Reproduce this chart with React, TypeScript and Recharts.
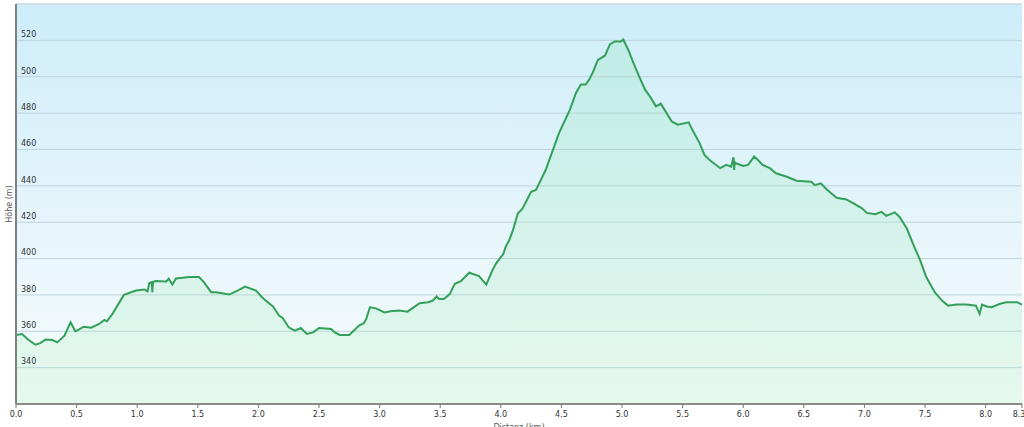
import React from "react"
import { ComposedChart, Area, XAxis, YAxis, CartesianGrid, ReferenceLine } from "recharts"

// profile samples
const distanceKm = [
  0.0, 0.05, 0.1, 0.16, 0.2, 0.245, 0.3, 0.34, 0.4, 0.45, 0.49, 0.56, 0.62, 0.685, 0.73, 0.75, 0.8, 0.89, 0.99,
  1.06, 1.085, 1.1, 1.12, 1.125, 1.13, 1.15, 1.24, 1.26, 1.29, 1.32, 1.43, 1.51, 1.55, 1.61, 1.65, 1.76, 1.84, 1.89,
  1.98, 2.03, 2.06, 2.12, 2.17, 2.2, 2.25, 2.3, 2.35, 2.4, 2.45, 2.5, 2.6, 2.63, 2.67, 2.75, 2.83, 2.87, 2.89, 2.92,
  2.97, 3.04, 3.09, 3.16, 3.23, 3.33, 3.4, 3.44, 3.47, 3.49, 3.53, 3.58, 3.62, 3.67, 3.74, 3.82, 3.88, 3.93, 3.96,
  4.02, 4.04, 4.07, 4.1, 4.14, 4.18, 4.25, 4.29, 4.37, 4.43, 4.48, 4.57, 4.62, 4.66, 4.7, 4.73, 4.76, 4.8, 4.86,
  4.9, 4.94, 4.99, 5.01, 5.05, 5.1, 5.14, 5.19, 5.23, 5.28, 5.32, 5.35, 5.41, 5.46, 5.55, 5.58, 5.64, 5.68, 5.72,
  5.81, 5.86, 5.9, 5.92, 5.925, 5.93, 5.94, 6.0, 6.04, 6.09, 6.12, 6.16, 6.22, 6.27, 6.36, 6.44, 6.56, 6.59, 6.64,
  6.69, 6.77, 6.85, 6.91, 6.98, 7.02, 7.09, 7.14, 7.18, 7.25, 7.29, 7.35, 7.4, 7.46, 7.51, 7.58, 7.64, 7.69, 7.76,
  7.84, 7.92, 7.95, 7.97, 8.01, 8.05, 8.12, 8.17, 8.26, 8.3,
]

const elevationM = [
  358, 358.5, 355.5, 352.6, 353.5, 355.5, 355.2, 353.9, 357.6, 365, 360, 362.5, 362, 364, 366.2, 365.5, 370, 380, 382.4,
  383, 381.9, 386.5, 387, 381.5, 387, 387.6, 387.4, 388.9, 385.7, 389, 389.8, 389.8, 387, 381.5, 381.5, 380.2, 382.8, 384.6,
  382.4, 378.7, 376.9, 373.6, 368.6, 367.3, 362.2, 360.3, 361.8, 358.5, 359.4, 361.8, 361.3, 359.4, 358, 358, 363.1, 364.4, 366.8, 373.2,
  372.6, 370.4, 371, 371.4, 370.8, 375.4, 376, 376.9, 379.1, 377.8, 377.8, 380.6, 386.1, 387.6, 392.2, 390.3, 385.7, 393.5, 397.2,
  402.5, 406.4, 410.2, 415.6, 424.8, 427.6, 436.7, 437.7, 448.7, 459.8, 469, 481.9, 491.1, 495.7, 495.7, 498.5, 502.5, 509.1, 511.7,
  517.8, 519.4, 519.4, 520.5, 515, 506.7, 500.3, 492.9, 489.2, 483.7, 485.2, 481.9, 475.4, 473.6, 474.9, 470.8, 463.5, 457, 454.3,
  449.7, 451.5, 450.5, 455.7, 448.7, 453, 452.4, 450.9, 451.5, 456.1, 454.3, 451.5, 449.7, 446.9, 445, 442.8, 442.3, 440.4, 441.4,
  438, 433.4, 432.5, 430.3, 427.6, 425.1, 424.4, 425.7, 423.5, 425.4, 422.9, 416.5, 408.2, 399, 389.8, 381.5, 376.9, 374.1, 374.7,
  374.7, 374.1, 369.6, 374.7, 373.6, 373.2, 375.1, 376, 376, 374.7,
]

const xTicks = [0, 0.5, 1, 1.5, 2, 2.5, 3, 3.5, 4, 4.5, 5, 5.5, 6, 6.5, 7, 7.5, 8, 8.3]
const yTicks = [340, 360, 380, 400, 420, 440, 460, 480, 500, 520]

const data = distanceKm.map((km, i) => ({ km, elev: elevationM[i] }))

const FONT = "'DejaVu Sans', Verdana, sans-serif"

export default function App() {
  return (
    <div style={{ position: "absolute", left: 0, top: 0, width: 1024, height: 427, background: "#fff", overflow: "hidden" }}>
      <ComposedChart width={1024} height={427} data={data} margin={{ top: 4, right: 2, bottom: 0, left: 16 }}>
        <defs>
          <linearGradient id="bgFill" x1="0" y1="0" x2="0" y2="1">
            <stop offset="0%" stopColor="#cdedfa" />
            <stop offset="55%" stopColor="#e6f5fb" />
            <stop offset="100%" stopColor="#f7fcfb" />
          </linearGradient>
          <linearGradient id="areaFill" x1="0" y1="0" x2="0" y2="1">
            <stop offset="0%" stopColor="#8fe3b0" stopOpacity={0.26} />
            <stop offset="100%" stopColor="#aeefc4" stopOpacity={0.24} />
          </linearGradient>
        </defs>
        <CartesianGrid vertical={false} stroke="#bfd3db" fill="url(#bgFill)" fillOpacity={1} />
        <ReferenceLine y={540} stroke="#d3dde2" strokeWidth={1.5} />
        <XAxis
          dataKey="km"
          type="number"
          domain={[0, 8.3]}
          ticks={xTicks}
          allowDataOverflow
          height={23}
          tickFormatter={(v: number) => v.toFixed(1)}
          tick={{ fontSize: 8, fill: "#333", fontFamily: FONT }}
          axisLine={{ stroke: "#8a8a8a", strokeWidth: 2 }}
          tickLine={{ stroke: "#777" }}
          tickSize={4}
          tickMargin={3}
          label={{ value: "Distanz (km)", position: "insideBottom", offset: -3, fontSize: 8, fill: "#555", fontFamily: FONT }}
        />
        <YAxis
          type="number"
          domain={[320, 540]}
          ticks={yTicks}
          width={1}
          mirror
          allowDataOverflow
          tickLine={false}
          tickSize={0}
          tickMargin={5}
          axisLine={{ stroke: "#808080", strokeWidth: 2 }}
          tick={{ fontSize: 8, fill: "#333", fontFamily: FONT, dy: -6 }}
        />
        <Area
          type="linear"
          dataKey="elev"
          stroke="#33a05a"
          strokeWidth={2}
          fill="url(#areaFill)"
          fillOpacity={1}
          baseValue={320}
          dot={false}
          activeDot={false}
          isAnimationActive={false}
        />
      </ComposedChart>
      <div
        style={{
          position: "absolute",
          left: 9,
          top: 204,
          transform: "translate(-50%, -50%) rotate(-90deg)",
          fontSize: 8,
          color: "#555",
          fontFamily: FONT,
          whiteSpace: "nowrap",
        }}
      >
        Höhe (m)
      </div>
    </div>
  )
}
